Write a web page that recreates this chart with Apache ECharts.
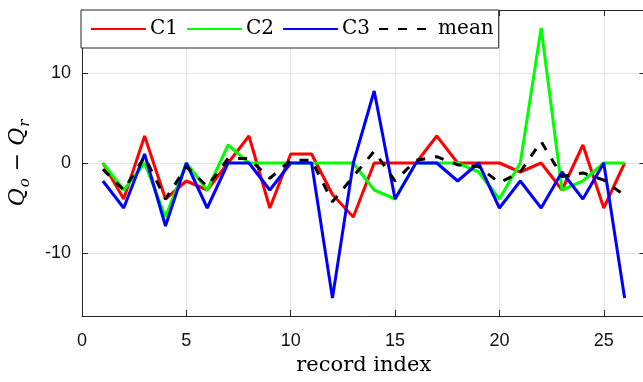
<!DOCTYPE html>
<html>
<head>
<meta charset="utf-8">
<script src="https://cdn.jsdelivr.net/npm/echarts@6/dist/echarts.min.js"></script>
<style>
  html, body { margin: 0; padding: 0; background: #fff; }
  #chart { width: 643px; height: 382px; }
</style>
</head>
<body>
<div id="chart"></div>
<script>
// Per-record quality difference Q_o - Q_r for three channels and their mean
const recordIndex = [1, 2, 3, 4, 5, 6, 7, 8, 9, 10, 11, 12, 13, 14, 15, 16, 17, 18, 19, 20, 21, 22, 23, 24, 25, 26];
const c1 = [0, -4, 3, -4, -2, -3, 0, 3, -5, 1, 1, -3.5, -6, 0, 0, 0, 3, 0, 0, 0, -1, 0, -3, 2, -5, 0];
const c2 = [0, -3, 0, -6, 0, -3, 2, 0, 0, 0, 0, 0, 0, -3, -4, 0, 0, 0, -1, -4, 0, 15, -3, -2, 0, 0];
const c3 = [-2, -5, 1, -7, 0, -5, 0, 0, -3, 0, 0, -15, 0, 8, -4, 0, 0, -2, 0, -5, -2, -5, -1, -4, 0, -15];
const meanQ = [-0.7, -3, 0.7, -4, -0.4, -2.6, 0.5, 0.5, -1.7, 0.3, 0.3, -4.3, -1.5, 1.3, -2, 0.3, 0.7, -0.2, -0.4, -2.2, -1, 2.4, -1.5, -1.1, -1.9, -3.6];
const seriesNames = ['C1', 'C2', 'C3', 'mean'];
const xTicks = [0, 5, 10, 15, 20, 25];
const yTicks = [-10, 0, 10];

const pairs = vals => recordIndex.map((x, i) => [x, vals[i]]);

const axisColor = '#262626';
const tickFont = { fontFamily: 'Liberation Sans', fontSize: 18, color: '#111' };
const serif = 'DejaVu Serif';

const chart = echarts.init(document.getElementById('chart'), null, { renderer: 'canvas' });

const lineSeries = (name, vals, color, type) => ({
  name,
  type: 'line',
  data: pairs(vals),
  symbol: 'circle',
  showSymbol: false,
  animation: false,
  lineStyle: { color, width: 3, type: type || 'solid' },
  itemStyle: { color }
});

chart.setOption({
  animation: false,
  grid: { left: 82, top: 10, width: 563.5, height: 306, containLabel: false, outerBoundsMode: 'none' },
  legend: {
    data: seriesNames,
    left: 81,
    top: 10,
    orient: 'horizontal',
    itemWidth: 55,
    itemHeight: 20,
    itemGap: 8,
    padding: [9, 5, 9, 9],
    backgroundColor: '#fff',
    borderColor: axisColor,
    borderWidth: 1,
    borderRadius: 0,
    itemStyle: { opacity: 0 },
    textStyle: { fontFamily: serif, fontSize: 20, color: '#000', padding: [0, 0, 0, -1] }
  },
  xAxis: [
    {
      type: 'value',
      min: 0, max: 27, interval: 5,
      name: 'record index',
      nameLocation: 'middle',
      nameGap: 39,
      nameTextStyle: { fontFamily: serif, fontSize: 21, color: '#000' },
      axisLine: { show: true, onZero: false, lineStyle: { color: axisColor, width: 1 } },
      axisTick: { show: true, inside: true, length: 6, lineStyle: { color: axisColor } },
      axisLabel: Object.assign({ margin: 16, showMaxLabel: false,
        formatter: v => xTicks.includes(v) ? String(v) : '' }, tickFont),
      splitLine: { show: true, lineStyle: { color: '#e4e4e4', width: 1 } }
    },
    {
      type: 'value', position: 'top',
      min: 0, max: 27, interval: 5,
      axisLine: { show: true, onZero: false, lineStyle: { color: axisColor, width: 1 } },
      axisTick: { show: true, inside: true, length: 6, lineStyle: { color: axisColor } },
      axisLabel: { show: false },
      splitLine: { show: false }
    }
  ],
  yAxis: [
    {
      type: 'value',
      min: -17, max: 17, splitNumber: 3,
      name: '{q|Q}{s|o}{m| − }{q|Q}{s|r}',
      nameLocation: 'middle',
      nameRotate: 90,
      nameGap: 49,
      nameTextStyle: {
        rich: {
          q: { fontFamily: serif, fontStyle: 'italic', fontSize: 22, color: '#000', lineHeight: 30 },
          m: { fontFamily: serif, fontSize: 22, color: '#000', lineHeight: 30 },
          s: { fontFamily: serif, fontStyle: 'italic', fontSize: 15, color: '#000', lineHeight: 30, verticalAlign: 'bottom', padding: [0, 0, 0, 1] }
        }
      },
      axisLine: { show: true, onZero: false, lineStyle: { color: axisColor, width: 1 } },
      axisTick: { show: true, inside: true, length: 6, lineStyle: { color: axisColor } },
      axisLabel: Object.assign({ margin: 11, showMinLabel: false, showMaxLabel: false,
        formatter: v => yTicks.includes(v) ? String(v) : '' }, tickFont),
      splitLine: { show: true, lineStyle: { color: '#e4e4e4', width: 1 } }
    },
    {
      type: 'value', position: 'right',
      min: -17, max: 17, splitNumber: 3,
      axisLine: { show: true, onZero: false, lineStyle: { color: axisColor, width: 1 } },
      axisTick: { show: true, inside: true, length: 6, lineStyle: { color: axisColor } },
      axisLabel: { show: false },
      splitLine: { show: false }
    }
  ],
  series: [
    lineSeries(seriesNames[0], c1, '#ff0000'),
    lineSeries(seriesNames[1], c2, '#00ff00'),
    lineSeries(seriesNames[2], c3, '#0000ff'),
    lineSeries(seriesNames[3], meanQ, '#000000', [9, 10])
  ]
});
</script>
</body>
</html>
